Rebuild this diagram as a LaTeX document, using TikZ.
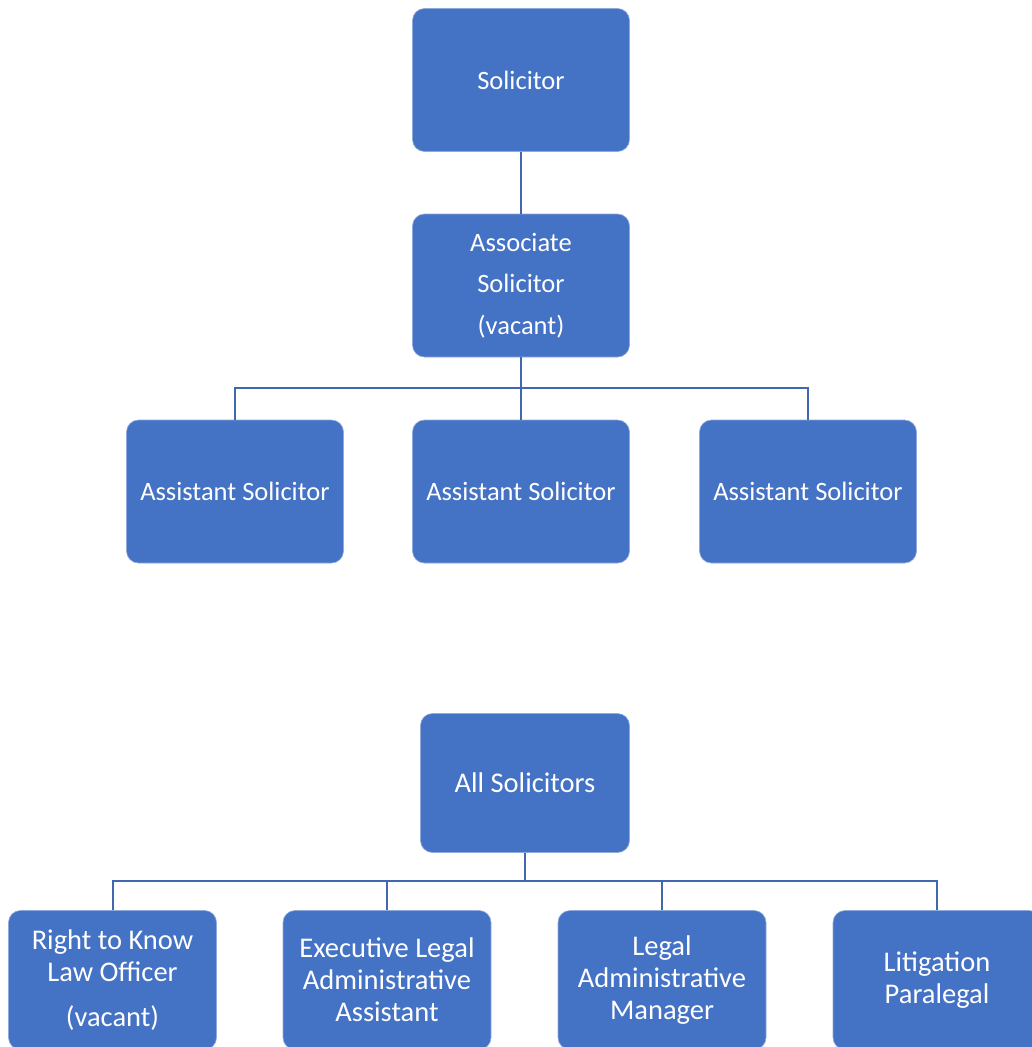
\documentclass[tikz,border=0pt]{standalone}
\usepackage{fontspec}
\setmainfont{Carlito}
\definecolor{boxblue}{HTML}{4472C4}
\definecolor{lineblue}{HTML}{4068B0}
\begin{document}
\begin{tikzpicture}[x=1pt,y=-1pt,
  orgbox/.style={fill=boxblue, draw=boxblue!60!white, line width=0.6pt, rounded corners=12pt,
    text=white, align=center, inner sep=0pt, anchor=center},
  topbox/.style={orgbox, minimum width=217pt, minimum height=143pt,
    font=\fontsize{26.5}{41.5}\selectfont},
  lowbox/.style={orgbox, minimum width=208pt, minimum height=139pt,
    font=\fontsize{28.5}{32}\selectfont},
  link/.style={draw=lineblue, line width=2pt}]
\useasboundingbox (0,0) rectangle (1032,1047);
\clip (0,0) rectangle (1032,1047);
\fill[white] (0,0) rectangle (1032,1047);

\node[topbox] (sol) at (521,80) {Solicitor};
\node[topbox] (assoc) at (521,285.5) {Associate\\Solicitor\\(vacant)};
\node[topbox] (as1) at (235,491.5) {Assistant Solicitor};
\node[topbox] (as2) at (521,491.5) {Assistant Solicitor};
\node[topbox] (as3) at (808,491.5) {Assistant Solicitor};

\node[lowbox, minimum width=209pt] (all) at (525,783) {All Solicitors};
\node[lowbox] (b1) at (112.5,980) {Right to Know\\Law Officer\\[13pt](vacant)};
\node[lowbox] (b2) at (387,980) {Executive Legal\\Administrative\\Assistant};
\node[lowbox] (b3) at (662,980) {Legal\\Administrative\\Manager};
\node[lowbox] (b4) at (937,980) {Litigation\\Paralegal};

\coordinate (j1) at (521,388);
\coordinate (j2) at (525,881);

\draw[link] (sol.south) -- (assoc.north);
\draw[link] (assoc.south) -- (as2.north);
\draw[link] (as1.north) |- (j1) -| (as3.north);

\draw[link] (all.south) -- (j2);
\draw[link] (b1.north) |- (j2) -| (b4.north);
\draw[link] (b2.north) -- (b2.north |- j2);
\draw[link] (b3.north) -- (b3.north |- j2);
\end{tikzpicture}
\end{document}
